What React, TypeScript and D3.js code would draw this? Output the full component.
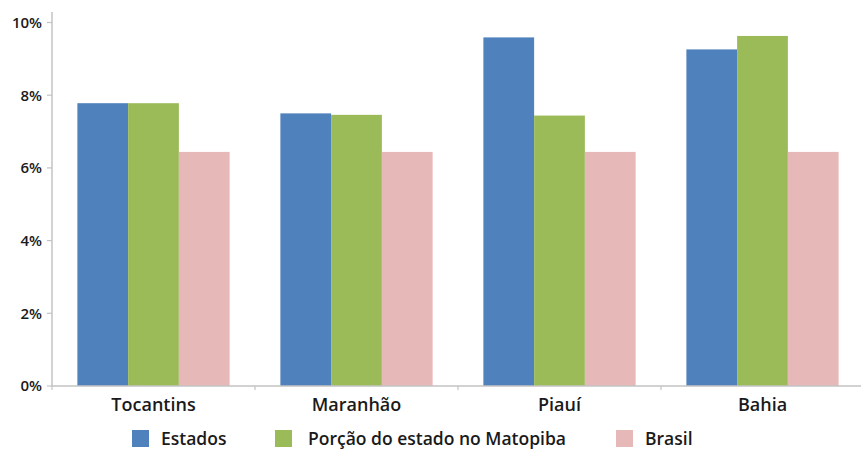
import React from "react";
import * as d3 from "d3";

const categories = ["Tocantins", "Maranhão", "Piauí", "Bahia"];
const seriesNames = ["Estados", "Porção do estado no Matopiba", "Brasil"];
const estados = [7.78, 7.5, 9.59, 9.26];
const porcao = [7.78, 7.46, 7.44, 9.63];
const brasil = [6.44, 6.44, 6.44, 6.44];
const yTicks = [0, 2, 4, 6, 8, 10];
const colors = ["#4F81BD", "#9BBB59", "#E6B9B8"];

const W = 861;
const H = 450;
const FONT = "'Open Sans', 'DejaVu Sans', sans-serif";

export default function App() {
  const values = [estados, porcao, brasil];
  const x0 = d3
    .scaleBand<string>()
    .domain(categories)
    .range([52, 864])
    .paddingInner(0.25)
    .paddingOuter(0.125);
  const x1 = d3
    .scaleBand<string>()
    .domain(seriesNames)
    .range([0, x0.bandwidth()])
    .padding(0);
  const y = d3.scaleLinear().domain([0, 10]).range([386, 22.5]);
  const step = x0.step();
  const axisColor = "#c3c3c3";

  return (
    <svg
      width={W}
      height={H}
      style={{ position: "absolute", left: 0, top: 0, background: "#fff" }}
    >
      {/* bars */}
      {categories.map((c, ci) =>
        seriesNames.map((s, si) => (
          <rect
            key={c + s}
            x={(x0(c) as number) + (x1(s) as number)}
            y={y(values[si][ci])}
            width={x1.bandwidth()}
            height={y(0) - y(values[si][ci])}
            fill={colors[si]}
          />
        ))
      )}
      {/* y axis */}
      <line x1={52} x2={52} y1={12} y2={y(0)} stroke={axisColor} strokeWidth={1.5} />
      {yTicks.map((t) => (
        <g key={t}>
          <line x1={47} x2={52} y1={y(t)} y2={y(t)} stroke={axisColor} strokeWidth={1.2} />
          <text
            x={42}
            y={y(t)}
            dy="0.36em"
            textAnchor="end"
            fontFamily={FONT}
            fontWeight={600}
            fontSize={15}
            fill="#1a1a1a"
          >
            {t + "%"}
          </text>
        </g>
      ))}
      {/* x axis */}
      <line x1={52} x2={861} y1={y(0)} y2={y(0)} stroke={axisColor} strokeWidth={1.5} />
      {d3.range(categories.length + 1).map((i) => (
        <line
          key={i}
          x1={52 + i * step}
          x2={52 + i * step}
          y1={y(0)}
          y2={y(0) + 4}
          stroke={axisColor}
          strokeWidth={1.2}
        />
      ))}
      {categories.map((c) => (
        <text
          key={c}
          x={(x0(c) as number) + x0.bandwidth() / 2}
          y={411}
          textAnchor="middle"
          fontFamily={FONT}
          fontWeight={600}
          fontSize={18}
          fill="#1a1a1a"
        >
          {c}
        </text>
      ))}
      {/* legend */}
      {[
        { sx: 132, tx: 161 },
        { sx: 275, tx: 308 },
        { sx: 616, tx: 645 },
      ].map((p, i) => (
        <g key={i}>
          <rect x={p.sx} y={430} width={17} height={17} fill={colors[i]} />
          <text
            x={p.tx}
            y={445}
            fontFamily={FONT}
            fontWeight={600}
            fontSize={17.5}
            fill="#1a1a1a"
          >
            {seriesNames[i]}
          </text>
        </g>
      ))}
    </svg>
  );
}
